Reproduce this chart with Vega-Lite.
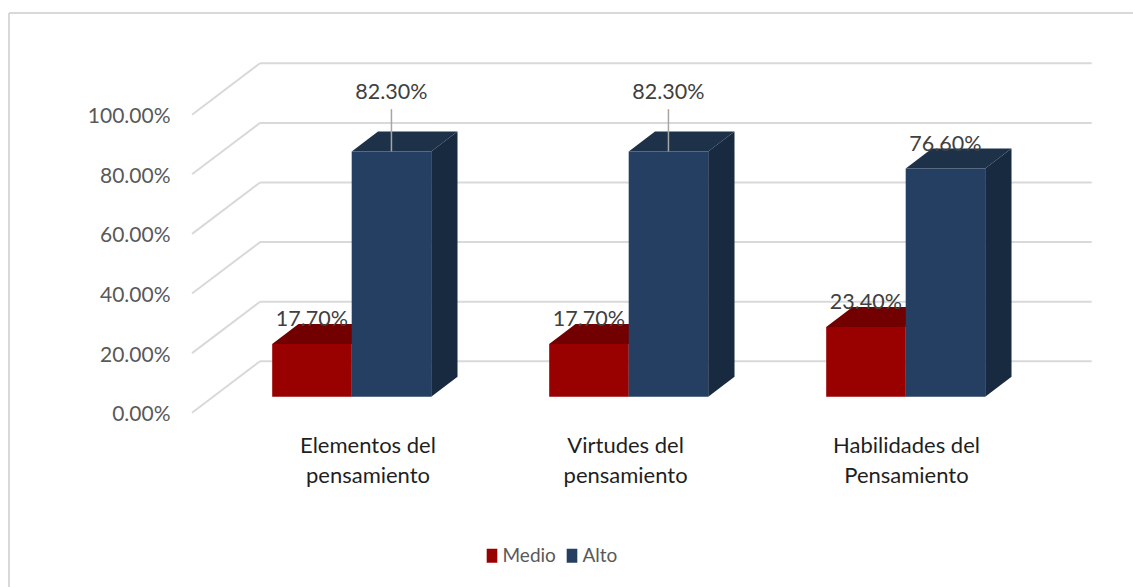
{
  "$schema": "https://vega.github.io/schema/vega-lite/v6.json",
  "description": "Niveles Medio y Alto por dimension del pensamiento, barras con perspectiva",
  "width": 1124,
  "height": 574,
  "autosize": {"type": "none"},
  "padding": {"left": 9, "top": 13, "right": 0, "bottom": 0},
  "background": "white",
  "view": {"stroke": null},
  "config": {"font": "Lato", "text": {"font": "Lato"}},
  "params": [
    {"name": "barW", "value": 0.287},
    {"name": "depthX", "value": 0.095},
    {"name": "depthY", "value": 6.71},
    {"name": "baseY", "value": 5.37},
    {"name": "wallX", "value": 0.669},
    {"name": "wallEnd", "value": 3.6715},
    {"name": "floorX", "value": 0.4235},
    {"name": "wallY", "value": 17.25}
  ],
  "datasets": {
    "barras": [
      {"categoria": "Elementos del pensamiento", "serie": "Medio", "valor": 17.7},
      {"categoria": "Elementos del pensamiento", "serie": "Alto", "valor": 82.3},
      {"categoria": "Virtudes del pensamiento", "serie": "Medio", "valor": 17.7},
      {"categoria": "Virtudes del pensamiento", "serie": "Alto", "valor": 82.3},
      {"categoria": "Habilidades del Pensamiento", "serie": "Medio", "valor": 23.4},
      {"categoria": "Habilidades del Pensamiento", "serie": "Alto", "valor": 76.6}
    ],
    "niveles": [{"nivel": 0}, {"nivel": 20}, {"nivel": 40}, {"nivel": 60}, {"nivel": 80}, {"nivel": 100}]
  },
  "layer": [
    {
      "data": {"name": "niveles"},
      "transform": [
        {"calculate": "floorX", "as": "frenteX"},
        {"calculate": "wallX", "as": "paredX"},
        {"calculate": "wallEnd", "as": "finX"},
        {"calculate": "datum.nivel + wallY", "as": "paredY"}
      ],
      "layer": [
        {
          "mark": {"type": "rule", "color": "#D9D9D9", "strokeWidth": 2},
          "encoding": {
            "x": {
              "field": "frenteX", "type": "quantitative",
              "scale": {"domain": [-0.2372, 3.8206], "nice": false, "zero": false},
              "axis": {
                "orient": "bottom", "offset": -157, "title": null, "grid": false, "domain": false, "ticks": false,
                "values": [1.057, 1.987, 3.001], "labelPadding": 5.5, "labelBaseline": "top",
                "labelFont": "Lato", "labelFontSize": 22, "labelColor": "#1F1F1F", "labelLineHeight": 29.5,
                "labelOverlap": false, "labelFlush": false, "labelBound": false,
                "labelExpr": "datum.value < 1.5 ? ['Elementos del', 'pensamiento'] : datum.value < 2.5 ? ['Virtudes del', 'pensamiento'] : ['Habilidades del', 'Pensamiento']"
              }
            },
            "x2": {"field": "paredX"},
            "y": {
              "field": "nivel", "type": "quantitative",
              "scale": {"domain": [-58.49, 134.13], "nice": false, "zero": false},
              "axis": {
                "orient": "left", "offset": -166, "title": null, "grid": false, "domain": false, "ticks": false,
                "values": [0, 20, 40, 60, 80, 100], "labelPadding": 5, "labelOffset": 2,
                "labelFont": "Lato", "labelFontSize": 21, "labelColor": "#595959", "labelOverlap": false,
                "labelExpr": "format(datum.value / 100, '.2%')"
              }
            },
            "y2": {"field": "paredY"}
          }
        },
        {
          "mark": {"type": "rule", "color": "#D9D9D9", "strokeWidth": 2},
          "encoding": {
            "x": {"field": "paredX", "type": "quantitative"},
            "x2": {"field": "finX"},
            "y": {"field": "paredY", "type": "quantitative"}
          }
        },
        {
          "mark": {"type": "rule", "color": "#D9D9D9", "strokeWidth": 2},
          "encoding": {"x": {"datum": -0.2372, "type": "quantitative"}}
        },
        {
          "mark": {"type": "rule", "color": "#D9D9D9", "strokeWidth": 2},
          "encoding": {"y": {"datum": 134.13, "type": "quantitative"}}
        }
      ]
    },
    {
      "data": {"name": "barras"},
      "transform": [
        {"calculate": "indexof(['Elementos del pensamiento', 'Virtudes del pensamiento', 'Habilidades del Pensamiento'], datum.categoria) + 1", "as": "grupo"},
        {"calculate": "datum.grupo + (datum.serie === 'Medio' ? -barW : 0)", "as": "izq"},
        {"calculate": "datum.izq + barW", "as": "der"},
        {"calculate": "baseY", "as": "base"},
        {"calculate": "baseY + datum.valor", "as": "tope"},
        {"calculate": "datum.categoria + datum.serie", "as": "clave"}
      ],
      "layer": [
        {
          "transform": [
            {"calculate": "[0, 1]", "as": "esquina"},
            {"flatten": ["esquina"]},
            {"calculate": "datum.der + datum.esquina * depthX", "as": "px"},
            {"calculate": "datum.base + datum.esquina * depthY", "as": "bajo"},
            {"calculate": "datum.tope + datum.esquina * depthY", "as": "alto"}
          ],
          "mark": {"type": "area", "line": false, "opacity": 1},
          "encoding": {
            "x": {"field": "px", "type": "quantitative"},
            "y": {"field": "bajo", "type": "quantitative", "stack": null},
            "y2": {"field": "alto"},
            "detail": {"field": "clave"},
            "color": {"condition": {"test": "datum.serie === 'Alto'", "value": "#172A40"}, "value": "#5E0000"}
          }
        },
        {
          "transform": [
            {"calculate": "[0, 1, 2, 3]", "as": "esquina"},
            {"flatten": ["esquina"]},
            {"calculate": "datum.izq + [0, depthX, barW, barW + depthX][datum.esquina]", "as": "px"},
            {"calculate": "datum.tope + [0, 0, 0, depthY][datum.esquina]", "as": "bajo"},
            {"calculate": "datum.tope + [0, depthY, depthY, depthY][datum.esquina]", "as": "alto"}
          ],
          "mark": {"type": "area", "line": false, "opacity": 1},
          "encoding": {
            "x": {"field": "px", "type": "quantitative"},
            "y": {"field": "bajo", "type": "quantitative", "stack": null},
            "y2": {"field": "alto"},
            "detail": {"field": "clave"},
            "color": {"condition": {"test": "datum.serie === 'Alto'", "value": "#1D3149"}, "value": "#730000"}
          }
        },
        {
          "mark": {"type": "rect", "opacity": 1},
          "encoding": {
            "x": {"field": "izq", "type": "quantitative"},
            "x2": {"field": "der"},
            "y": {"field": "base", "type": "quantitative"},
            "y2": {"field": "tope"},
            "color": {
              "field": "serie", "type": "nominal",
              "scale": {"domain": ["Medio", "Alto"], "range": ["#990000", "#243F62"]},
              "legend": {
                "title": null, "orient": "none", "direction": "horizontal", "legendX": 473.5, "legendY": 533,
                "symbolType": "M-0.76,-1H0.76V1H-0.76Z", "symbolSize": 196, "symbolStrokeWidth": 0,
                "labelFont": "Lato", "labelFontSize": 19, "labelColor": "#595959", "labelOffset": 1, "columnPadding": 6
              }
            }
          }
        },
        {
          "transform": [
            {"filter": "datum.valor > 80"},
            {"calculate": "datum.tope + 14.2", "as": "guia"},
            {"calculate": "(datum.izq + datum.der) / 2", "as": "centro"}
          ],
          "mark": {"type": "rule", "color": "#A6A6A6", "strokeWidth": 1.5},
          "encoding": {
            "x": {"field": "centro", "type": "quantitative"},
            "y": {"field": "tope", "type": "quantitative"},
            "y2": {"field": "guia"}
          }
        },
        {
          "transform": [
            {"calculate": "(datum.izq + datum.der) / 2", "as": "centro"},
            {"calculate": "datum.tope + (datum.valor > 80 ? 19.7 : 8.0)", "as": "rotuloY"},
            {"calculate": "format(datum.valor / 100, '.2%')", "as": "rotulo"}
          ],
          "mark": {"type": "text", "font": "Lato", "fontSize": 21.5, "color": "#404040", "align": "center", "baseline": "middle"},
          "encoding": {
            "x": {"field": "centro", "type": "quantitative"},
            "y": {"field": "rotuloY", "type": "quantitative"},
            "text": {"field": "rotulo"}
          }
        }
      ]
    }
  ]
}
